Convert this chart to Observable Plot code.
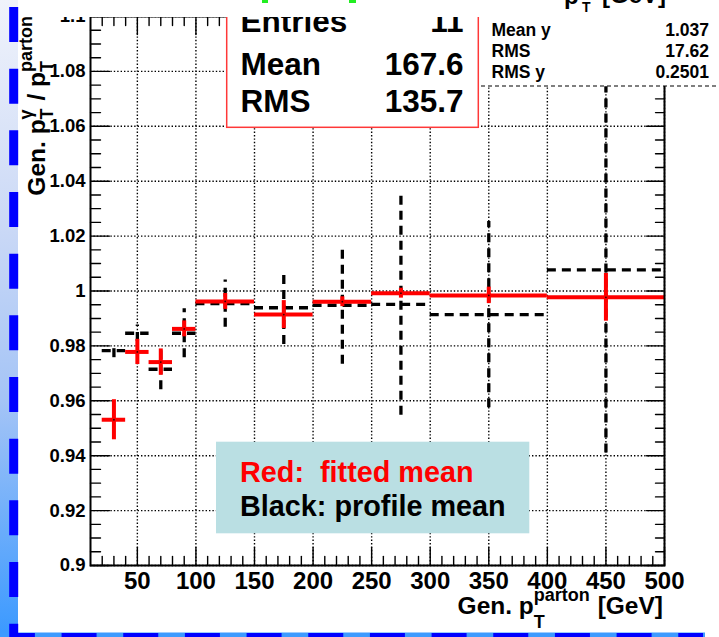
<!DOCTYPE html>
<html>
<head>
<meta charset="utf-8">
<script src="https://cdn.jsdelivr.net/npm/d3@7"></script>
<script src="https://cdn.jsdelivr.net/npm/@observablehq/plot@0.6"></script>
<style>
  html, body { margin: 0; padding: 0; background: #fff; }
  #chart { width: 719px; height: 637px; overflow: hidden; }
  #chart svg { overflow: hidden; display: block; }
</style>
</head>
<body>
<div id="chart"></div>
<script>
// Parton-level pT bins (GeV)
const binLow    = [20, 40, 60, 80, 100, 150, 200, 250, 300, 400];
const binHigh   = [40, 60, 80, 100, 150, 200, 250, 300, 400, 500];
const binCenter = [30, 50, 70, 90, 125, 175, 225, 275, 350, 450];

// Fitted mean of pT(gamma)/pT(parton) and its error (red)
const fitMean = [0.9531, 0.9778, 0.9741, 0.9862, 0.9962, 0.9914, 0.9961, 0.9992, 0.9984, 0.9977];
const fitErr  = [0.0073, 0.0046, 0.0048, 0.0029, 0.0029, 0.0051, 0.0018, 0.0018, 0.0030, 0.0087];

// Profile mean and its spread (black, dashed)
const profMean = [0.9783, 0.9846, 0.9715, 0.9846, 0.9954, 0.9939, 0.9948, 0.9951, 0.9914, 1.0077];
const profErr  = [0.0026, 0.0030, 0.0075, 0.0089, 0.0086, 0.0134, 0.0215, 0.0404, 0.0339, 0.0667];

// Axis ticks
const xMajorTicks = d3.range(50, 501, 50);
const xMinorTicks = d3.range(20, 501, 10).filter(v => v % 50 !== 0);
const yMajorTicks = d3.range(0, 11).map(i => +(0.9 + 0.02 * i).toFixed(2));
const yMinorTicks = d3.range(0, 41).filter(i => i % 4 !== 0).map(i => +(0.9 + 0.005 * i).toFixed(3));

// Statistics boxes
const statLabels  = ["Entries", "Mean", "RMS"];
const statValues  = ["11", "167.6", "135.7"];
const stat2Labels = ["Mean y", "RMS", "RMS y"];
const stat2Values = ["1.037", "17.62", "0.2501"];

// Legend lines
const legendText   = ["Red:  fitted mean", "Black: profile mean"];
const legendColors = ["#ff0000", "#000000"];

const FONT = '"Liberation Sans", Arial, Helvetica, sans-serif';

const fit  = binCenter.map((x, i) => ({x, lo: binLow[i], hi: binHigh[i], y: fitMean[i],  e: fitErr[i]}));
const prof = binCenter.map((x, i) => ({x, lo: binLow[i], hi: binHigh[i], y: profMean[i], e: profErr[i]}));

const X_MIN = 10, X_MAX = 500, Y_MIN = 0.9, Y_MAX = 1.1;

// Tick shapes for inward-pointing ticks drawn with the vector mark
const tickUp    = {draw(c, l) { c.moveTo(0, 0); c.lineTo(0, -l); }};
const tickDown  = {draw(c, l) { c.moveTo(0, 0); c.lineTo(0, l); }};
const tickRight = {draw(c, l) { c.moveTo(0, 0); c.lineTo(l, 0); }};
const tickLeft  = {draw(c, l) { c.moveTo(0, 0); c.lineTo(-l, 0); }};
const tickStyle = {stroke: "black", strokeWidth: 1.4, anchor: "start", rotate: 0};
const ticksX = (ticks, yEdge, len, shape) =>
  Plot.vector(ticks, {x: d => d, y: () => yEdge, length: len, shape, ...tickStyle});
const ticksY = (ticks, xEdge, len, shape) =>
  Plot.vector(ticks, {x: () => xEdge, y: d => d, length: len, shape, ...tickStyle});

const dotted = {stroke: "black", strokeOpacity: 1, strokeWidth: 1.4, strokeDasharray: "1.4,2"};

const svgNode = Plot.plot({
  width: 719,
  height: 637,
  marginLeft: 90,
  marginRight: 55,
  marginTop: 16,
  marginBottom: 72,
  style: {fontFamily: FONT, fontWeight: "bold", color: "black", background: "white", overflow: "hidden"},
  x: {domain: [X_MIN, X_MAX], label: null},
  y: {domain: [Y_MIN, Y_MAX], label: null},
  marks: [
    // dotted grid at the major ticks
    Plot.ruleX(xMajorTicks, {x: d => d, ...dotted}),
    Plot.ruleY(yMajorTicks, {y: d => d, ...dotted}),

    // profile: dashed bin-width bars and error bars
    Plot.ruleY(prof, {y: "y", x1: "lo", x2: "hi", stroke: "black", strokeWidth: 3.3, strokeDasharray: "9,6"}),
    Plot.ruleX(prof, {x: "x", y1: d => d.y - d.e, y2: d => d.y + d.e, stroke: "black", strokeWidth: 3.3, strokeDasharray: "9,6"}),

    // fitted mean: solid red crosses
    Plot.ruleY(fit, {y: "y", x1: "lo", x2: "hi", stroke: "#ff0000", strokeWidth: 4}),
    Plot.ruleX(fit, {x: "x", y1: d => d.y - d.e, y2: d => d.y + d.e, stroke: "#ff0000", strokeWidth: 4}),
    Plot.dot(fit, {x: "x", y: "y", r: 0.9, fill: "#300", stroke: null}),

    Plot.frame({stroke: "black", strokeWidth: 2}),

    // inward ticks on all four sides
    ticksX(xMajorTicks, Y_MIN, 18, tickUp),
    ticksX(xMinorTicks, Y_MIN, 9, tickUp),
    ticksX(xMajorTicks, Y_MAX, 18, tickDown),
    ticksX(xMinorTicks, Y_MAX, 9, tickDown),
    ticksY(yMajorTicks, X_MIN, 19, tickRight),
    ticksY(yMinorTicks, X_MIN, 10, tickRight),
    ticksY(yMajorTicks, X_MAX, 18, tickLeft),
    ticksY(yMinorTicks, X_MAX, 9, tickLeft),

    // tick labels
    Plot.axisX(xMajorTicks, {anchor: "bottom", tickSize: 0, tickPadding: 6, label: null, fontSize: 24, fontWeight: "bold", fill: "black"}),
    Plot.axisY(yMajorTicks, {anchor: "left", tickSize: 0, tickPadding: 5, label: null, fontSize: 18.5, fontWeight: "bold", fill: "black", tickFormat: d => String(d)})
  ]
});

document.getElementById("chart").appendChild(svgNode);
const svg = d3.select(svgNode);

function addText(g, str, x, y, size, opts = {}) {
  return g.append("text")
    .attr("x", x).attr("y", y)
    .attr("font-family", FONT)
    .attr("font-size", size)
    .attr("font-weight", "bold")
    .attr("fill", opts.fill || "black")
    .attr("text-anchor", opts.anchor || "start")
    .style("white-space", "pre")
    .text(str);
}

// Title made of main text pieces and stacked sub/superscripts
function scriptedText(parent, pieces, mainSize, scriptSize) {
  const g = parent.append("g");
  let x = 0;
  for (const p of pieces) {
    if (p.main != null) {
      const t = addText(g, p.main, x, 0, mainSize);
      x += t.node().getComputedTextLength();
    } else {
      let w = 0;
      if (p.sub) w = Math.max(w, addText(g, p.sub, x, p.subDy, scriptSize).node().getComputedTextLength());
      if (p.sup) w = Math.max(w, addText(g, p.sup, x, p.supDy, scriptSize).node().getComputedTextLength());
      x += w + 1;
    }
  }
  return {g, width: x};
}

// Slide frame on the left and bottom
const defs = svg.append("defs");
const grad = defs.append("linearGradient").attr("id", "sideGrad").attr("x1", 0).attr("y1", 0).attr("x2", 0).attr("y2", 1);
[[0, "#f0f3fb"], [0.35, "#cbd9f6"], [0.63, "#a4c4f6"], [1, "#3a99ff"]].forEach(([o, c]) =>
  grad.append("stop").attr("offset", o).attr("stop-color", c));
svg.append("rect").attr("x", 0).attr("y", 0).attr("width", 18).attr("height", 637).attr("fill", "url(#sideGrad)");
svg.append("rect").attr("x", 0).attr("y", 632.5).attr("width", 705).attr("height", 5).attr("fill", "#3d9bff");
svg.append("path").attr("d", "M13.7,7V637.5H703").attr("fill", "none")
  .attr("stroke", "#0000ff").attr("stroke-width", 9).attr("stroke-dasharray", "35 26.67");

// Second statistics box (right)
svg.append("rect").attr("x", 479).attr("y", -5).attr("width", 250).attr("height", 91).attr("fill", "white");
svg.append("line").attr("x1", 481).attr("x2", 719).attr("y1", 86).attr("y2", 86)
  .attr("stroke", "black").attr("stroke-width", 1.2).attr("stroke-dasharray", "4,3");
stat2Labels.forEach((s, i) => {
  addText(svg, s, 491.5, 36 + 21 * i, 17.5);
  addText(svg, stat2Values[i], 709, 36 + 21 * i, 17.5, {anchor: "end"});
});

// First statistics box (red border)
svg.append("rect").attr("x", 226.7).attr("y", -5).attr("width", 251.6).attr("height", 132.3)
  .attr("fill", "white").attr("stroke", "#ff3838").attr("stroke-width", 1.5);
[31.7, 75, 111.7].forEach((y, i) => {
  addText(svg, statLabels[i], 240.5, y, 31.5);
  addText(svg, statValues[i], 463.5, y, 31.5, {anchor: "end"});
});

// Title band across the top
svg.append("rect").attr("x", 48).attr("y", 0).attr("width", 671).attr("height", 17).attr("fill", "white");
svg.append("rect").attr("x", 262).attr("y", 0).attr("width", 6).attr("height", 3).attr("fill", "#22ee22");
svg.append("rect").attr("x", 349).attr("y", 0).attr("width", 7).attr("height", 3).attr("fill", "#22ee22");
addText(svg, "p", 564, 4, 24);
addText(svg, "T", 582, 12, 14);
addText(svg, "[GeV]", 602, 3, 24);

// Legend box
svg.append("rect").attr("x", 216).attr("y", 441.7).attr("width", 313.3).attr("height", 91.6).attr("fill", "#badfe3");
legendText.forEach((s, i) => addText(svg, s, 240, 481.7 + 34.5 * i, 28.8, {fill: legendColors[i]}));

// X axis title: Gen. p_T^parton [GeV]
const xt = scriptedText(svg, [
  {main: "Gen. p"},
  {sub: "T", subDy: 14, sup: "parton", supDy: -13.5},
  {main: " [GeV]"}
], 24.5, 18);
xt.g.attr("transform", `translate(${663 - xt.width},614)`);

// Y axis title: Gen. p_T^gamma / p_T^parton
const yt = scriptedText(svg, [
  {main: "Gen. p"},
  {sub: "T", subDy: 8, sup: "\u03b3", supDy: -13},
  {main: " / p"},
  {sub: "T", subDy: 8, sup: "parton", supDy: -13}
], 24.5, 18);
yt.g.attr("transform", `translate(45,${15 + yt.width}) rotate(-90)`);
</script>
</body>
</html>
